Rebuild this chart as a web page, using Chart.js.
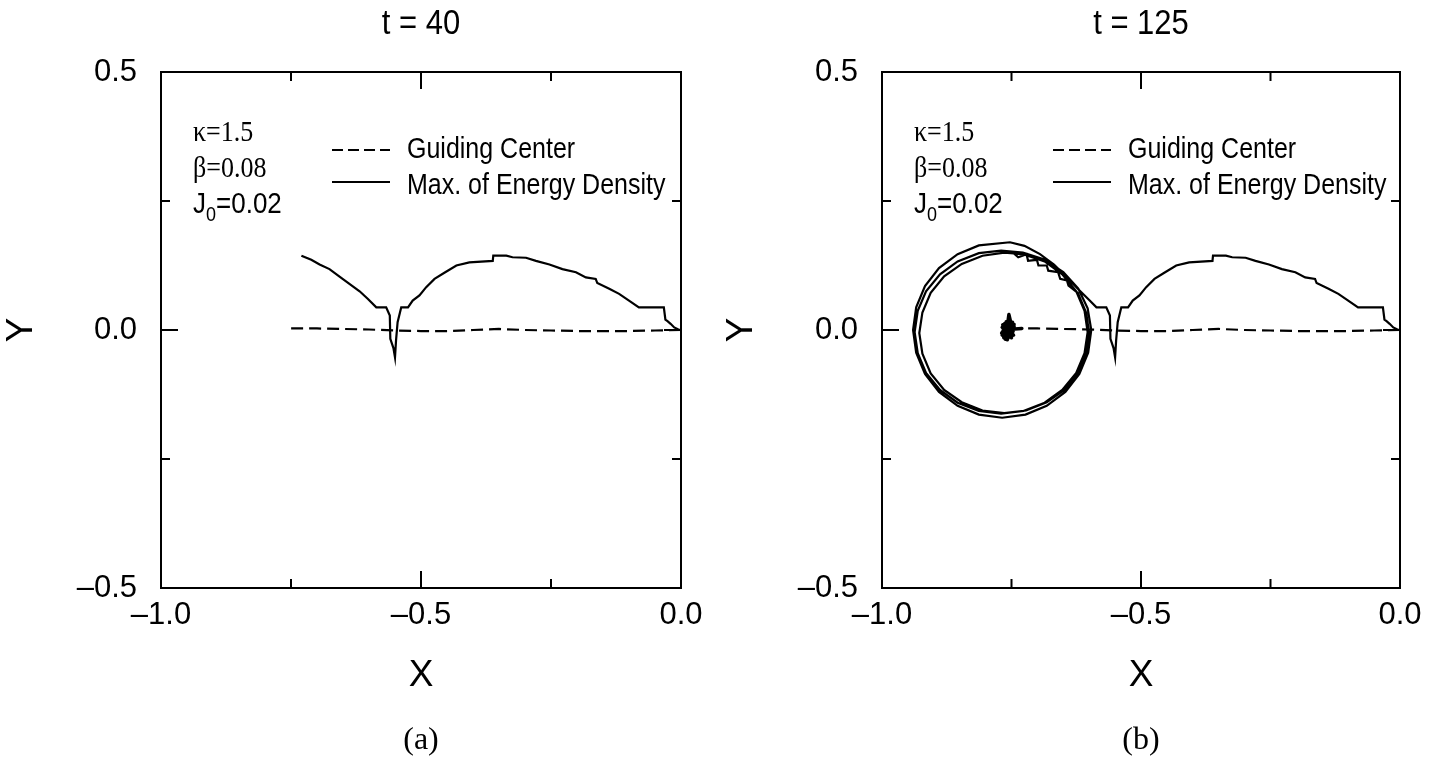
<!DOCTYPE html>
<html>
<head>
<meta charset="utf-8">
<script src="https://cdn.jsdelivr.net/npm/chart.js@4.4.0/dist/chart.umd.min.js"></script>
<style>
  html, body { margin: 0; padding: 0; background: #fff; }
  #wrap { position: relative; width: 1441px; height: 780px; }
  .panel { position: absolute; top: 0; width: 720px; height: 780px; }
</style>
</head>
<body>
<div id="wrap">
  <div class="panel" style="left:0"><canvas id="chartA" width="720" height="780"></canvas></div>
  <div class="panel" style="left:720px"><canvas id="chartB" width="720" height="780"></canvas></div>
</div>
<script>
// tick values
const xMajor = [-1.0, -0.5, 0.0];
const xMinor = [-0.75, -0.25];
const yMajor = [-0.5, 0.0, 0.5];
const yMinor = [-0.25, 0.25];

// text
const titles = ['t = 40', 't = 125'];
const captions = ['(a)', '(b)'];
const params = ['κ=1.5', 'β=0.08', 'J', '0', '=0.02'];
const legendLabels = ['Guiding Center', 'Max. of Energy Density'];

// max. of energy density, from x=0 going left to the flat step near -0.59
const archPath = [
  [0.000, 0.000], [-0.005, 0.001], [-0.013, 0.005], [-0.020, 0.012], [-0.026, 0.017],
  [-0.030, 0.020], [-0.033, 0.044], [-0.081, 0.044], [-0.100, 0.057], [-0.119, 0.070],
  [-0.138, 0.080], [-0.161, 0.091], [-0.164, 0.099], [-0.183, 0.102], [-0.202, 0.112],
  [-0.228, 0.118], [-0.253, 0.127], [-0.279, 0.134], [-0.298, 0.140], [-0.324, 0.141],
  [-0.336, 0.144], [-0.361, 0.144], [-0.362, 0.134], [-0.407, 0.131], [-0.432, 0.125],
  [-0.455, 0.111], [-0.474, 0.099], [-0.490, 0.083], [-0.503, 0.067], [-0.516, 0.057],
  [-0.525, 0.044], [-0.538, 0.044], [-0.545, 0.015], [-0.548, -0.020], [-0.550, -0.053],
  [-0.553, -0.035], [-0.559, -0.017], [-0.560, 0.028], [-0.567, 0.044], [-0.586, 0.044]
];

// t = 40: the rest of the track up to the left end
const tailA = [
  [-0.602, 0.060], [-0.618, 0.075], [-0.637, 0.089], [-0.656, 0.103],
  [-0.676, 0.118], [-0.695, 0.127], [-0.711, 0.136], [-0.730, 0.144]
];

// t = 125: the track goes up into three loops around the guiding center
const orbitB = [
  [-0.600, 0.058], [-0.622, 0.080], [-0.643, 0.102], [-0.668, 0.127], [-0.695, 0.147],
  [-0.725, 0.163], [-0.753, 0.170],
  [-0.813, 0.164], [-0.854, 0.147], [-0.890, 0.120], [-0.917, 0.085], [-0.934, 0.044],
  [-0.940, 0.000], [-0.934, -0.044], [-0.917, -0.085], [-0.890, -0.120], [-0.854, -0.147],
  [-0.813, -0.164], [-0.768, -0.170], [-0.723, -0.164], [-0.682, -0.147], [-0.646, -0.120],
  [-0.619, -0.085], [-0.602, -0.044], [-0.596, 0.000], [-0.603, 0.042], [-0.621, 0.080],
  [-0.650, 0.112], [-0.688, 0.137], [-0.728, 0.150], [-0.770, 0.154],
  [-0.813, 0.149], [-0.854, 0.133], [-0.888, 0.108], [-0.915, 0.075], [-0.931, 0.037],
  [-0.937, -0.004], [-0.931, -0.045], [-0.915, -0.083], [-0.888, -0.116], [-0.854, -0.141],
  [-0.813, -0.157], [-0.770, -0.162], [-0.727, -0.157], [-0.686, -0.141], [-0.652, -0.116],
  [-0.625, -0.083], [-0.609, -0.045], [-0.603, -0.004], [-0.609, 0.037], [-0.625, 0.075],
  [-0.652, 0.108], [-0.686, 0.133], [-0.727, 0.147], [-0.764, 0.150],
  [-0.806, 0.144], [-0.846, 0.128], [-0.880, 0.104], [-0.906, 0.072], [-0.922, 0.034],
  [-0.928, -0.006], [-0.922, -0.046], [-0.906, -0.084], [-0.880, -0.116], [-0.846, -0.140],
  [-0.806, -0.156], [-0.764, -0.161], [-0.722, -0.156], [-0.682, -0.140], [-0.648, -0.116],
  [-0.622, -0.084], [-0.606, -0.046], [-0.600, -0.006], [-0.606, 0.034], [-0.622, 0.072],
  [-0.640, 0.086], [-0.643, 0.096], [-0.656, 0.099], [-0.660, 0.112], [-0.679, 0.115],
  [-0.682, 0.125], [-0.698, 0.125], [-0.701, 0.136], [-0.718, 0.134], [-0.721, 0.147],
  [-0.737, 0.141], [-0.747, 0.150]
];

// guiding center
const guideA = [
  [0.000, 0.000], [-0.050, -0.001], [-0.100, -0.002], [-0.150, -0.002], [-0.200, -0.002],
  [-0.250, -0.001], [-0.300, 0.000], [-0.350, 0.002], [-0.400, 0.000], [-0.450, -0.002],
  [-0.500, -0.002], [-0.550, -0.001], [-0.600, 0.001], [-0.650, 0.002], [-0.700, 0.003],
  [-0.752, 0.003]
];
const guideB = [
  [0.000, 0.000], [-0.050, -0.001], [-0.100, -0.002], [-0.150, -0.002], [-0.200, -0.002],
  [-0.250, -0.001], [-0.300, 0.000], [-0.350, 0.002], [-0.400, 0.000], [-0.450, -0.002],
  [-0.500, -0.002], [-0.550, -0.001], [-0.600, 0.001], [-0.650, 0.002], [-0.700, 0.003],
  [-0.730, 0.003]
];
// guiding center jitter once it has stopped (t = 125)
const swirlB = [
  [-0.730, 0.003], [-0.744, 0.002], [-0.762, 0.012], [-0.746, -0.010], [-0.768, 0.005],
  [-0.748, 0.015], [-0.765, -0.015], [-0.745, 0.007], [-0.769, -0.006], [-0.752, 0.017],
  [-0.755, 0.030], [-0.757, 0.015], [-0.762, -0.018], [-0.747, -0.003], [-0.767, 0.010],
  [-0.750, -0.015], [-0.760, 0.016], [-0.745, 0.011], [-0.768, -0.010], [-0.752, 0.005],
  [-0.758, -0.019], [-0.748, 0.012], [-0.766, 0.000], [-0.753, -0.011], [-0.763, 0.013],
  [-0.749, -0.007], [-0.760, 0.005], [-0.755, -0.014], [-0.765, 0.008], [-0.757, 0.002]
];

const SANS = '"Liberation Sans", Arial, Helvetica, sans-serif';
const SERIF = '"Liberation Serif", "Times New Roman", serif';

const toXY = pts => pts.map(([x, y]) => ({ x: x, y: y }));
const fmt = v => (v < -1e-9 ? '\u2013' : '') + Math.abs(v).toFixed(1);

// text slightly taller than wide, like the original print
function tallText(ctx, text, x, y, sy) {
  ctx.save();
  ctx.translate(x, y);
  ctx.scale(1, sy);
  ctx.fillText(text, 0, 0);
  ctx.restore();
}

// box, inward ticks, title, parameters, legend, caption
const frame = {
  id: 'frame',
  afterDraw(chart, args, opts) {
    const { ctx, chartArea: a, scales: { x, y } } = chart;
    ctx.save();
    ctx.strokeStyle = '#000';
    ctx.lineWidth = 2;
    ctx.strokeRect(a.left, a.top, a.right - a.left, a.bottom - a.top);
    ctx.beginPath();
    const tickX = (vals, len) => vals.forEach(v => {
      const p = x.getPixelForValue(v);
      ctx.moveTo(p, a.bottom); ctx.lineTo(p, a.bottom - len);
      ctx.moveTo(p, a.top); ctx.lineTo(p, a.top + len);
    });
    const tickY = (vals, len) => vals.forEach(v => {
      const p = y.getPixelForValue(v);
      ctx.moveTo(a.left, p); ctx.lineTo(a.left + len, p);
      ctx.moveTo(a.right, p); ctx.lineTo(a.right - len, p);
    });
    tickX(xMajor, 17); tickX(xMinor, 9);
    tickY(yMajor, 17); tickY(yMinor, 9);
    ctx.stroke();

    ctx.fillStyle = '#000';
    ctx.textAlign = 'center';
    ctx.textBaseline = 'alphabetic';
    ctx.font = '31px ' + SANS;
    tallText(ctx, opts.title, (a.left + a.right) / 2, 34, 1.12);
    ctx.textBaseline = 'middle';
    ctx.font = '32px ' + SERIF;
    ctx.fillText(opts.caption, (a.left + a.right) / 2, 741);

    // parameters
    ctx.textAlign = 'left';
    ctx.textBaseline = 'alphabetic';
    const px = a.left + 32;
    ctx.font = '26px ' + SERIF;
    tallText(ctx, params[0], px, 141, 1.15);
    tallText(ctx, params[1], px, 177, 1.15);
    ctx.font = '26px ' + SANS;
    tallText(ctx, params[2], px, 213, 1.12);
    let w = ctx.measureText(params[2]).width;
    ctx.font = '18px ' + SANS;
    tallText(ctx, params[3], px + w, 221, 1.12);
    w += ctx.measureText(params[3]).width;
    ctx.font = '26px ' + SANS;
    tallText(ctx, params[4], px + w, 213, 1.12);

    // legend
    const lx = a.left + 171;
    ctx.lineWidth = 2;
    ctx.setLineDash([11, 5]);
    ctx.beginPath(); ctx.moveTo(lx, 150); ctx.lineTo(lx + 58, 150); ctx.stroke();
    ctx.setLineDash([]);
    ctx.beginPath(); ctx.moveTo(lx, 182); ctx.lineTo(lx + 58, 182); ctx.stroke();
    ctx.font = '25px ' + SANS;
    tallText(ctx, legendLabels[0], a.left + 246, 158, 1.15);
    tallText(ctx, legendLabels[1], a.left + 246, 194, 1.15);
    ctx.restore();
  }
};

function makeChart(id, yWidth, padRight, datasets, title, caption) {
  return new Chart(document.getElementById(id), {
    type: 'scatter',
    data: { datasets: datasets },
    plugins: [frame],
    options: {
      responsive: false,
      animation: false,
      layout: { padding: { top: 72, right: padRight, left: 0, bottom: 0 } },
      elements: { point: { radius: 0 }, line: { tension: 0 } },
      plugins: {
        legend: { display: false },
        tooltip: { enabled: false },
        frame: { title: title, caption: caption }
      },
      scales: {
        x: {
          type: 'linear', min: -1, max: 0,
          grid: { display: false, drawTicks: false },
          border: { display: false },
          ticks: {
            stepSize: 0.5, padding: 9, maxRotation: 0, autoSkip: false,
            color: '#000', font: { family: SANS, size: 31 }, callback: fmt
          },
          title: {
            display: true, text: 'X', color: '#000',
            font: { family: SANS, size: 37 }, padding: { top: 0, bottom: 82 }
          },
          afterFit: s => { s.height = 192; }
        },
        y: {
          type: 'linear', min: -0.5, max: 0.5,
          grid: { display: false, drawTicks: false },
          border: { display: false },
          ticks: {
            stepSize: 0.5, padding: 24, autoSkip: false,
            color: '#000', font: { family: SANS, size: 31 }, callback: fmt
          },
          title: {
            display: true, text: 'Y', color: '#000',
            font: { family: SANS, size: 37 }, padding: { top: 0, bottom: 0 }
          },
          afterFit: s => { s.width = yWidth; }
        }
      }
    }
  });
}

const solid = { showLine: true, borderColor: '#000', borderWidth: 2.2, pointRadius: 0, fill: false };
const dashed = Object.assign({}, solid, { borderDash: [12, 6] });

makeChart('chartA', 161, 39, [
  Object.assign({ label: legendLabels[0], data: toXY(guideA) }, dashed),
  Object.assign({ label: legendLabels[1], data: toXY(archPath.concat(tailA)) }, solid)
], titles[0], captions[0]);

makeChart('chartB', 162, 40, [
  Object.assign({ label: legendLabels[0], data: toXY(guideB) }, dashed),
  Object.assign({ label: legendLabels[0] + ' (stopped)', data: toXY(swirlB) }, solid,
    { borderWidth: 3.5, borderJoinStyle: 'round', borderCapStyle: 'round' }),
  Object.assign({ label: legendLabels[1], data: toXY(archPath.concat(orbitB)) }, solid)
], titles[1], captions[1]);
</script>
</body>
</html>
